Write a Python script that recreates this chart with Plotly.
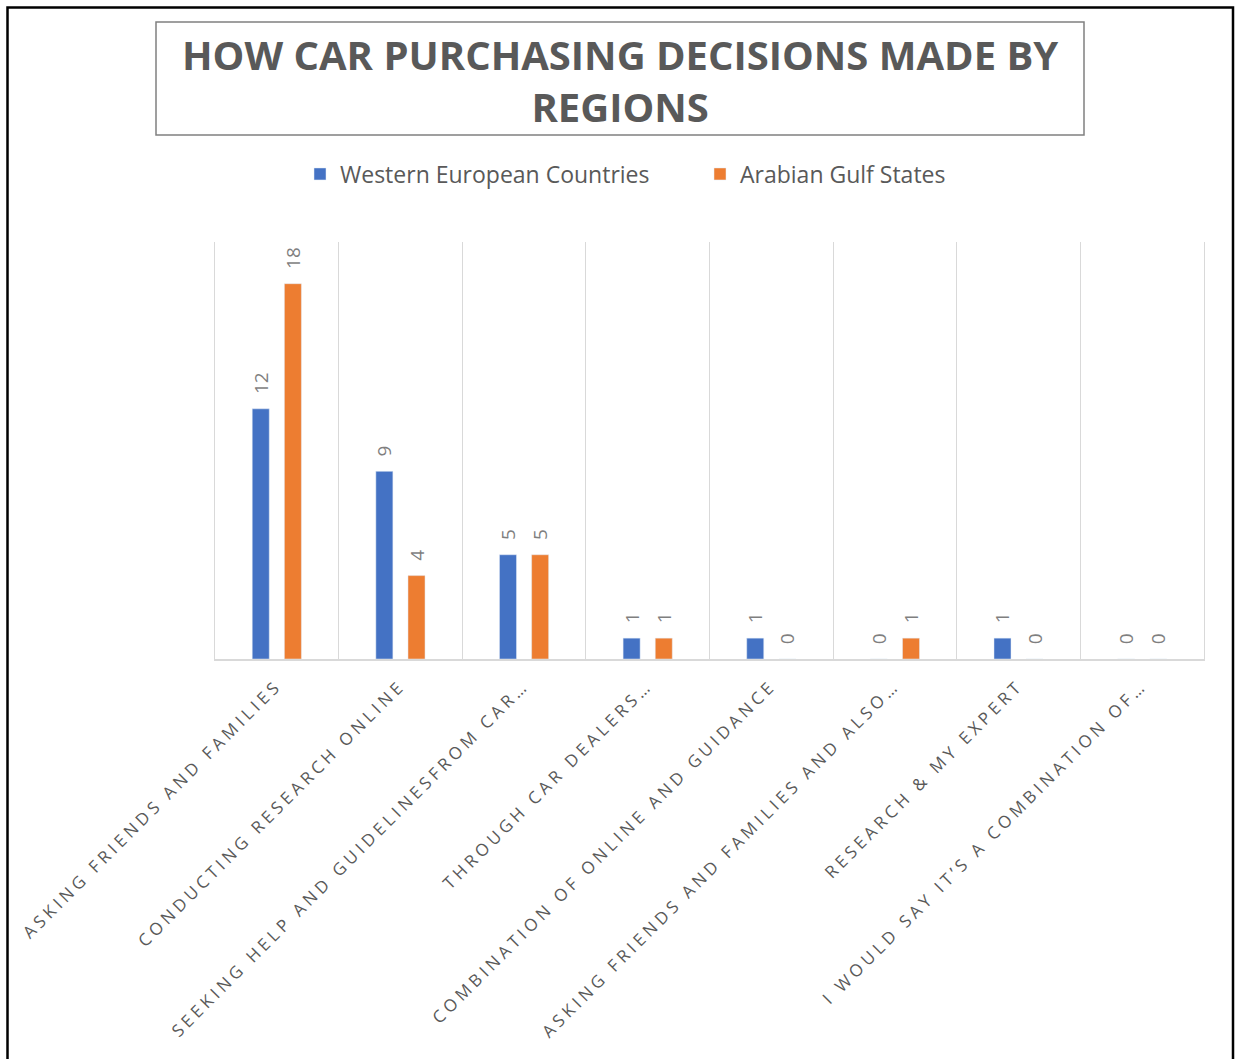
import plotly.graph_objects as go

categories = [
    "ASKING FRIENDS AND FAMILIES",
    "CONDUCTING RESEARCH ONLINE",
    "SEEKING HELP AND GUIDELINESFROM CAR…",
    "THROUGH CAR DEALERS…",
    "COMBINATION OF ONLINE AND GUIDANCE",
    "ASKING FRIENDS AND FAMILIES AND ALSO…",
    "RESEARCH & MY EXPERT",
    "I WOULD SAY IT’S A COMBINATION OF…",
]
western_europe = [12, 9, 5, 1, 1, 0, 1, 0]
gulf_states = [18, 4, 5, 1, 0, 1, 0, 0]

FONT = "Open Sans"
GREY = "#595959"

FW, FH = 1235, 1059
# plot area in page pixels: x 215..1204, y 242..659
L, R, T, B = 215, 1204, 242, 659
W, H = R - L, B - T
def px(x):
    return (x - L) / W
def py(y):
    return (B - y) / H

fig = go.Figure()
for name, vals, col in [("Western European Countries", western_europe, "#4472C4"),
                        ("Arabian Gulf States", gulf_states, "#ED7D31")]:
    # labels read bottom-to-top, so leading spaces push them off the bar
    fig.add_trace(go.Bar(
        name=name, x=categories, y=vals, marker_color=col,
        texttemplate="\u00a0\u00a0\u200a%{y}", textposition="outside", textangle=-90,
        constraintext="none", cliponaxis=False,
        textfont=dict(color="#7F7F7F", size=19, family=FONT),
    ))

fig.update_layout(
    width=FW, height=FH,
    margin=dict(l=L, r=FW - R, t=T, b=FH - B),
    paper_bgcolor="white", plot_bgcolor="white",
    font=dict(family=FONT, color=GREY),
    barmode="group", bargap=0.48, bargroupgap=0.47,
    showlegend=True,
    legend=dict(
        orientation="h", x=px(700), xanchor="center", y=py(174), yanchor="middle",
        font=dict(size=23, color=GREY, family=FONT), entrywidth=355,
    ),
)
fig.update_xaxes(
    tickson="boundaries", showgrid=True, gridcolor="#D9D9D9", gridwidth=1,
    showline=True, linecolor="#D9D9D9", linewidth=2, ticks="",
    tickangle=-45, tickfont=dict(size=17, color=GREY, family=FONT),
    ticklabelstandoff=8,
)
fig.update_yaxes(range=[0, 20], showgrid=False, zeroline=False, showticklabels=False,
                 showline=True, mirror=True, linecolor="#D9D9D9", linewidth=1)

# outer frame
fig.add_shape(type="rect", xref="paper", yref="paper",
              x0=px(7.5), x1=px(1233), y0=py(1075), y1=py(7.5),
              line=dict(color="black", width=2.5), layer="below")
# title box
fig.add_shape(type="rect", xref="paper", yref="paper",
              x0=px(156), x1=px(1084), y0=py(135), y1=py(22),
              line=dict(color="#808080", width=1.5))
fig.add_annotation(
    xref="paper", yref="paper", x=px(620), y=py(80), xanchor="center", yanchor="middle",
    text="<b>HOW CAR PURCHASING DECISIONS MADE BY<br>REGIONS</b>", showarrow=False,
    font=dict(size=40, color=GREY, family=FONT),
)

# no body margin so the figure fills the window; spaced-out category labels
post = """
document.body.style.margin = '0';
document.querySelectorAll('.xtick text').forEach(function (t) {
    t.style.letterSpacing = '4px';
});
"""
fig.write_html("out.html", post_script=post, config={"displayModeBar": False})
